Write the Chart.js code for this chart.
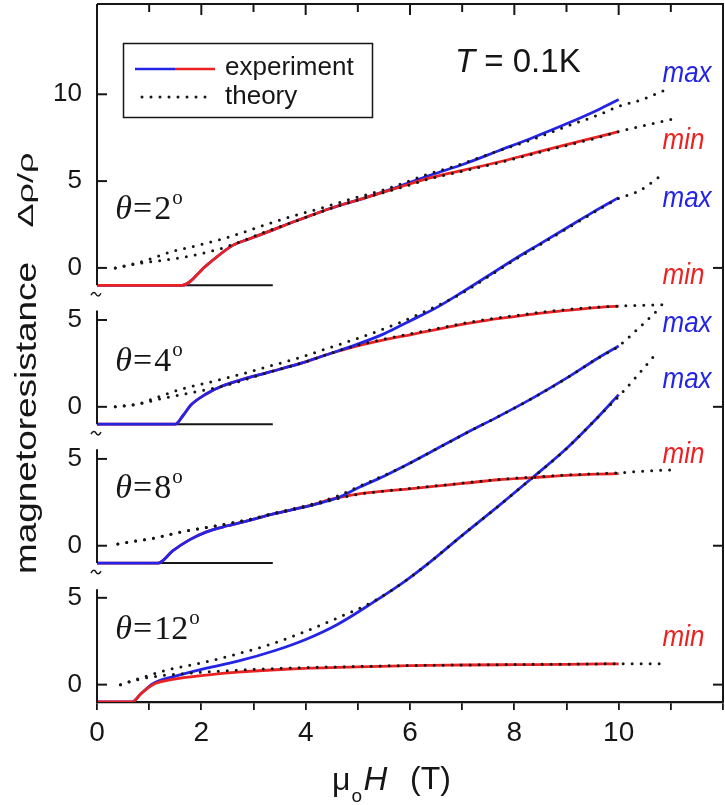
<!DOCTYPE html>
<html><head><meta charset="utf-8">
<script src="https://cdn.jsdelivr.net/npm/chart.js@4.4.1/dist/chart.umd.min.js"></script>
<style>html,body{margin:0;padding:0;background:#fff;}canvas{display:block;}</style>
</head><body>
<canvas id="c" width="725" height="805"></canvas>
<script>
// ---------------- DATA (field in T, Δρ/ρ per panel) ----------------
const angles = [2, 4, 8, 12];
const xTickLabels = ['0', '2', '4', '6', '8', '10'];
const yTickValues = [0, 5];
const yTickValuesTop = [0, 5, 10];

// θ = 2°
const fExpMax2 = [0, 1.63, 2.1, 2.6, 2.9, 3.25, 3.9, 4.5, 5.15, 5.8, 6.4, 7.05, 7.7, 8.35, 9.0, 9.6, 10.0];
const vExpMax2 = [-1, -1, 0.15, 1.3, 1.65, 2.05, 2.8, 3.45, 4.05, 4.7, 5.35, 6.0, 6.75, 7.5, 8.3, 9.1, 9.7];
const fExpMin2 = [0, 1.63, 2.1, 2.6, 2.9, 3.25, 3.9, 4.5, 5.15, 5.8, 6.4, 7.05, 7.7, 8.35, 9.0, 9.6, 10.0];
const vExpMin2 = [-1, -1, 0.15, 1.3, 1.65, 2.05, 2.8, 3.45, 4.05, 4.65, 5.2, 5.65, 6.1, 6.6, 7.1, 7.55, 7.85];
const fThMax2 = [0.35, 0.7, 1.0, 1.45, 2.0, 2.5, 2.9, 3.6, 4.3, 4.85, 5.55, 6.3, 7.0, 7.7, 8.35, 9.0, 9.6, 10.0, 10.45, 10.86];
const vThMax2 = [0, 0.23, 0.5, 0.95, 1.35, 1.75, 2.15, 2.85, 3.45, 3.95, 4.55, 5.35, 6.0, 6.75, 7.4, 8.15, 8.8, 9.3, 9.7, 10.2];
const fThMin2 = [0.35, 0.7, 1.0, 1.3, 1.8, 2.3, 2.6, 3.25, 3.9, 4.5, 5.15, 5.8, 6.4, 7.05, 7.7, 8.35, 9.0, 9.6, 10.0, 10.5, 11.0];
const vThMin2 = [0, 0.2, 0.35, 0.45, 0.7, 1.05, 1.35, 2.1, 2.8, 3.45, 4.05, 4.6, 5.15, 5.6, 6.05, 6.55, 7.05, 7.5, 7.85, 8.2, 8.55];

// θ = 4°
const fExpMax4 = [0, 1.5, 1.65, 1.8, 2.1, 2.4, 2.7, 3.3, 3.9, 4.5, 4.85, 5.5, 6.0, 6.5, 7.0, 7.5, 8.0, 8.5, 9.0, 9.5, 10.0];
const vExpMax4 = [-1, -1, -0.5, 0.1, 0.75, 1.2, 1.5, 2.0, 2.5, 3.1, 3.45, 4.2, 4.95, 5.7, 6.6, 7.55, 8.5, 9.4, 10.3, 11.2, 12.05];
const fExpMin4 = [0, 1.5, 1.65, 1.8, 2.1, 2.4, 2.7, 3.3, 3.9, 4.5, 4.85, 5.5, 6.0, 6.5, 7.0, 7.5, 8.0, 8.5, 9.0, 9.5, 10.0];
const vExpMin4 = [-1, -1, -0.5, 0.1, 0.75, 1.2, 1.5, 2.0, 2.5, 3.1, 3.4, 3.85, 4.15, 4.45, 4.75, 5.0, 5.2, 5.4, 5.55, 5.7, 5.8];
const fThMax4 = [0.35, 0.8, 1.07, 1.65, 2.0, 2.6, 3.25, 3.9, 4.5, 5.1, 5.8, 6.4, 7.0, 7.5, 8.0, 8.5, 9.0, 9.5, 10.0, 10.4, 10.85];
const vThMax4 = [0, 0.17, 0.46, 1.05, 1.3, 1.75, 2.3, 2.85, 3.45, 4.05, 4.85, 5.65, 6.55, 7.5, 8.45, 9.35, 10.25, 11.15, 12.0, 12.45, 13.4];
const fThMin4 = [0.35, 0.8, 1.2, 1.7, 2.2, 2.6, 3.3, 3.9, 4.5, 5.0, 5.5, 6.0, 6.5, 7.0, 7.5, 8.0, 8.5, 9.0, 9.5, 10.0, 10.5, 10.96];
const vThMin4 = [0, 0.17, 0.45, 0.75, 1.05, 1.35, 2.0, 2.5, 3.1, 3.55, 3.9, 4.2, 4.5, 4.8, 5.05, 5.25, 5.45, 5.6, 5.72, 5.8, 5.85, 5.9];

// θ = 8°
const fExpMax8 = [0, 1.17, 1.45, 1.78, 2.1, 2.5, 2.9, 3.4, 4.0, 4.6, 5.05, 5.5, 5.9, 6.4, 7.05, 7.7, 8.35, 9.0, 9.6, 10.0];
const vExpMax8 = [-1, -1, -0.3, 0.35, 0.8, 1.15, 1.45, 1.85, 2.25, 2.75, 3.4, 4.0, 4.6, 5.4, 6.45, 7.45, 8.5, 9.65, 10.8, 11.5];
const fExpMin8 = [0, 1.17, 1.45, 1.78, 2.1, 2.5, 2.9, 3.4, 4.0, 4.6, 5.05, 5.5, 5.9, 6.4, 7.05, 7.7, 8.35, 9.0, 9.6, 10.0];
const vExpMin8 = [-1, -1, -0.3, 0.35, 0.8, 1.15, 1.45, 1.85, 2.25, 2.75, 3.0, 3.15, 3.25, 3.4, 3.6, 3.8, 3.92, 4.05, 4.12, 4.15];
const fThMax8 = [0.4, 0.8, 1.15, 1.45, 1.8, 2.2, 2.9, 3.4, 4.0, 4.6, 5.05, 5.5, 5.9, 6.4, 7.05, 7.7, 8.35, 9.0, 9.6, 10.0, 10.3, 10.55, 10.83];
const vThMax8 = [0.1, 0.3, 0.47, 0.69, 0.9, 1.1, 1.5, 1.88, 2.3, 2.85, 3.45, 4.05, 4.6, 5.4, 6.45, 7.45, 8.5, 9.65, 10.8, 11.5, 12.3, 13.0, 13.8];
const fThMin8 = [0.4, 0.8, 1.15, 1.45, 1.8, 2.2, 2.9, 3.4, 4.0, 4.6, 5.05, 5.5, 5.9, 6.4, 7.05, 7.7, 8.35, 9.0, 9.6, 10.0, 10.5, 11.05];
const vThMin8 = [0.1, 0.3, 0.47, 0.69, 0.9, 1.1, 1.5, 1.85, 2.25, 2.7, 2.98, 3.15, 3.27, 3.42, 3.62, 3.82, 3.95, 4.07, 4.15, 4.2, 4.3, 4.37];

// θ = 12°
const fExpMax12 = [0, 0.67, 0.85, 1.07, 1.45, 2.1, 2.7, 3.4, 4.0, 4.6, 5.3, 5.9, 6.4, 7.0, 7.7, 8.3, 9.0, 9.6, 10.0];
const vExpMax12 = [-1, -1, -0.5, 0.05, 0.45, 0.95, 1.35, 1.95, 2.6, 3.45, 4.75, 5.95, 7.1, 8.6, 10.3, 11.8, 13.6, 15.4, 16.7];
const fExpMin12 = [0, 0.67, 0.85, 1.07, 1.45, 2.1, 2.7, 3.7, 5.0, 6.0, 7.0, 8.0, 9.0, 10.0];
const vExpMin12 = [-1, -1, -0.5, 0.0, 0.3, 0.55, 0.72, 0.9, 1.02, 1.1, 1.13, 1.15, 1.17, 1.2];
const fThMax12 = [0.45, 0.8, 1.35, 2.0, 2.6, 3.25, 3.9, 4.5, 5.3, 5.9, 6.4, 7.0, 7.7, 8.3, 9.0, 9.6, 10.0, 10.3, 10.5, 10.7];
const vThMax12 = [0, 0.35, 0.85, 1.25, 1.7, 2.25, 2.95, 3.7, 4.8, 5.95, 7.1, 8.6, 10.3, 11.8, 13.6, 15.4, 16.6, 17.6, 18.3, 19.0];
const fThMin12 = [0.45, 0.8, 1.2, 1.6, 2.2, 3.0, 4.0, 5.0, 6.0, 7.0, 8.0, 9.0, 10.0, 10.85];
const vThMin12 = [0, 0.3, 0.5, 0.62, 0.75, 0.88, 0.98, 1.05, 1.1, 1.13, 1.16, 1.18, 1.2, 1.2];

// ---------------- LAYOUT / STYLE ----------------
const OFFSET = {2: 24, 4: 16, 8: 8, 12: 0};       // vertical shift of each panel
const BLUE = '#2424e6', RED = '#ec2222', INK = '#161616';
const SANS = '"Liberation Sans", Arial, Helvetica, sans-serif';
const SERIF = '"Liberation Serif", "Times New Roman", serif';

const panels = [
  {deg: 2,  expMax: [fExpMax2, vExpMax2],   expMin: [fExpMin2, vExpMin2],   thMax: [fThMax2, vThMax2],   thMin: [fThMin2, vThMin2],   redTop: true},
  {deg: 4,  expMax: [fExpMax4, vExpMax4],   expMin: [fExpMin4, vExpMin4],   thMax: [fThMax4, vThMax4],   thMin: [fThMin4, vThMin4],   redTop: false},
  {deg: 8,  expMax: [fExpMax8, vExpMax8],   expMin: [fExpMin8, vExpMin8],   thMax: [fThMax8, vThMax8],   thMin: [fThMin8, vThMin8],   redTop: false},
  {deg: 12, expMax: [fExpMax12, vExpMax12], expMin: [fExpMin12, vExpMin12], thMax: [fThMax12, vThMax12], thMin: [fThMin12, vThMin12], redTop: true}
];

function pts(xs, ys, off) { return xs.map((v, i) => ({x: v, y: ys[i] + off})); }

const datasets = [];
panels.forEach(p => {
  const off = OFFSET[p.deg];
  const base = {type: 'line', fill: false, pointRadius: 0, cubicInterpolationMode: 'monotone'};
  ['thMax', 'thMin'].forEach(k => datasets.push(Object.assign({}, base, {
    label: 'theory ' + k + ' ' + p.deg, data: pts(p[k][0], p[k][1], off),
    borderColor: INK, borderWidth: 3, borderDash: [0, 9], borderCapStyle: 'round', order: 0
  })));
  datasets.push(Object.assign({}, base, {
    label: 'experiment max ' + p.deg, data: pts(p.expMax[0], p.expMax[1], off),
    borderColor: BLUE, borderWidth: 2.8, order: p.redTop ? 2 : 1
  }));
  datasets.push(Object.assign({}, base, {
    label: 'experiment min ' + p.deg, data: pts(p.expMin[0], p.expMin[1], off),
    borderColor: RED, borderWidth: 2.8, order: p.redTop ? 1 : 2
  }));
});

// y tick values in the stacked coordinate and their labels
const yTicks = [];
angles.forEach(a => {
  const vals = a === 2 ? yTickValuesTop : yTickValues;
  vals.forEach(v => yTicks.push({value: v + OFFSET[a], label: String(v)}));
});

function txt(ctx, s, x, y, o) {
  ctx.save();
  ctx.translate(x, y);
  if (o.rot) ctx.rotate(o.rot);
  ctx.font = o.font;
  let sx = o.sx || 1;
  if (o.width) sx = o.width / ctx.measureText(s).width;
  ctx.scale(sx, o.sy || 1);
  ctx.fillStyle = o.color || INK;
  ctx.textAlign = o.align || 'left';
  ctx.textBaseline = o.base || 'alphabetic';
  ctx.fillText(s, 0, 0);
  const w = ctx.measureText(s).width * sx;
  ctx.restore();
  return w;
}

function tilde(ctx, x, y) {
  ctx.beginPath();
  ctx.moveTo(x - 5, y + 1);
  ctx.bezierCurveTo(x - 3, y - 3, x - 1, y - 2, x, y);
  ctx.bezierCurveTo(x + 1, y + 2, x + 3, y + 3, x + 5, y - 1);
  ctx.stroke();
}

const decor = {
  id: 'decor',
  beforeDatasetsDraw(chart) {
    const {ctx, scales: {x, y}} = chart;
    ctx.save();
    ctx.strokeStyle = INK; ctx.lineWidth = 2;
    [2, 4, 8].forEach(a => {
      const py = y.getPixelForValue(OFFSET[a] - 1);
      ctx.beginPath(); ctx.moveTo(x.getPixelForValue(0), py); ctx.lineTo(x.getPixelForValue(3.37), py); ctx.stroke();
    });
    ctx.restore();
  },
  afterDraw(chart) {
    const {ctx, chartArea: ca, scales: {x, y}} = chart;
    ctx.save();
    ctx.strokeStyle = INK; ctx.lineCap = 'butt';
    // top & right frame
    ctx.lineWidth = 2;
    ctx.beginPath(); ctx.moveTo(ca.left, ca.top); ctx.lineTo(ca.right, ca.top); ctx.lineTo(ca.right, ca.bottom); ctx.stroke();
    // broken left axis
    const segs = [[OFFSET[2] - 1, y.max], [OFFSET[4] - 1, OFFSET[4] + 5.55], [OFFSET[8] - 1, OFFSET[8] + 5.55], [y.min, OFFSET[12] + 5.5]];
    segs.forEach(s => {
      ctx.beginPath(); ctx.moveTo(ca.left, y.getPixelForValue(s[0])); ctx.lineTo(ca.left, y.getPixelForValue(s[1])); ctx.stroke();
    });
    // break marks
    ctx.lineWidth = 1.5;
    [2, 4, 8].forEach(a => tilde(ctx, ca.left - 1, y.getPixelForValue(OFFSET[a] - 1) + 9));
    // inward ticks
    ctx.lineWidth = 2;
    yTicks.forEach(t => {
      const py = y.getPixelForValue(t.value);
      ctx.beginPath(); ctx.moveTo(ca.left, py); ctx.lineTo(ca.left + 10, py); ctx.stroke();
    });
    angles.forEach(a => {
      const py = y.getPixelForValue(OFFSET[a]);
      ctx.beginPath(); ctx.moveTo(ca.right, py); ctx.lineTo(ca.right - 10, py); ctx.stroke();
    });
    for (let v = 1; v <= 11; v++) {
      const px = x.getPixelForValue(v);
      ctx.beginPath(); ctx.moveTo(px, ca.top); ctx.lineTo(px, ca.top + (v % 2 === 0 ? 11 : 8)); ctx.stroke();
    }

    // legend
    const lx = ca.left + 26, ly = ca.top + 39;
    ctx.lineWidth = 1.5;
    ctx.strokeRect(lx + 0.5, ly + 0.5, 249, 74);
    ctx.lineWidth = 2.6;
    ctx.strokeStyle = BLUE; ctx.beginPath(); ctx.moveTo(lx + 12, ly + 26); ctx.lineTo(lx + 52, ly + 26); ctx.stroke();
    ctx.strokeStyle = RED; ctx.beginPath(); ctx.moveTo(lx + 52, ly + 26); ctx.lineTo(lx + 92, ly + 26); ctx.stroke();
    ctx.strokeStyle = INK; ctx.lineWidth = 3; ctx.lineCap = 'round'; ctx.setLineDash([0, 9]);
    ctx.beginPath(); ctx.moveTo(lx + 19, ly + 54); ctx.lineTo(lx + 86, ly + 54); ctx.stroke();
    ctx.setLineDash([]); ctx.lineCap = 'butt';
    txt(ctx, 'experiment', lx + 102, ly + 25, {font: '26px ' + SANS, base: 'middle'});
    txt(ctx, 'theory', lx + 102, ly + 54, {font: '26px ' + SANS, base: 'middle'});

    // T = 0.1K
    let tx = ca.left + 358;
    tx += txt(ctx, 'T', tx, ca.top + 68, {font: 'italic 33px ' + SANS});
    txt(ctx, ' = 0.1K', tx, ca.top + 68, {font: '33px ' + SANS});

    // max / min labels
    const lab = [['max', BLUE, 35.2], ['min', RED, 31.33], ['max', BLUE, 27.99], ['min', RED, 23.54],
                 ['max', BLUE, 20.77], ['max', BLUE, 17.54], ['min', RED, 13.27], ['min', RED, 2.71]];
    lab.forEach(l => txt(ctx, l[0], x.getPixelForValue(10.84), y.getPixelForValue(l[2]), {font: 'italic 26px ' + SANS, color: l[1], base: 'middle', sy: 1.15}));

    // θ labels
    const thetaBase = {2: 2.83, 4: 2.08, 8: 2.77, 12: 2.65};
    angles.forEach(a => {
      let px = x.getPixelForValue(0.35);
      const py = y.getPixelForValue(OFFSET[a] + thetaBase[a]);
      px += txt(ctx, 'θ', px, py, {font: 'italic 34px ' + SERIF});
      px += txt(ctx, '=', px + 1, py, {font: '34px ' + SERIF}) + 3;
      px += txt(ctx, String(a), px, py, {font: '34px ' + SERIF});
      txt(ctx, 'o', px + 1, py - 15, {font: '21px ' + SERIF});
    });

    // axis titles
    let ax = 332;
    ax += txt(ctx, 'μ', ax, 790, {font: '32px ' + SANS});
    txt(ctx, 'o', ax + 1, 802, {font: '19px ' + SANS});
    ax += 13;
    txt(ctx, 'H', ax, 790, {font: 'italic 33px ' + SANS});
    txt(ctx, '(T)', 410, 789, {font: '32px ' + SANS});

    txt(ctx, 'magnetoresistance', 36, 418, {font: '30px ' + SANS, rot: -Math.PI / 2, align: 'center', width: 312});
    txt(ctx, 'Δρ/ρ', 33, 190, {font: '22px ' + SANS, rot: -Math.PI / 2, align: 'center', width: 75});
    ctx.restore();
  }
};

new Chart(document.getElementById('c'), {
  type: 'line',
  data: {datasets},
  plugins: [decor],
  options: {
    responsive: false, animation: false, devicePixelRatio: 1,
    layout: {padding: {left: 0, right: 2, top: 4, bottom: 0}},
    plugins: {legend: {display: false}, tooltip: {enabled: false}},
    scales: {
      x: {
        type: 'linear', min: 0, max: 12,
        afterFit: s => { s.height = 103; s.paddingLeft = 0; s.paddingRight = 0; },
        border: {display: true, color: INK, width: 2.2},
        grid: {display: true, drawOnChartArea: false, drawTicks: true, tickLength: 8, color: INK, lineWidth: 1.8},
        ticks: {stepSize: 1, autoSkip: false, maxRotation: 0, padding: 6, color: INK,
          font: {family: SANS, size: 28},
          callback: v => (v % 2 === 0 && v <= 10) ? xTickLabels[v / 2] : ''}
      },
      y: {
        type: 'linear', min: -1.0, max: 39.2,
        afterFit: s => { s.width = 97; s.paddingTop = 0; s.paddingBottom = 0; },
        afterBuildTicks: s => { s.ticks = yTicks.map(t => ({value: t.value})); },
        border: {display: false},
        grid: {display: false, drawTicks: false},
        ticks: {padding: 15, color: INK, autoSkip: false, font: {family: SANS, size: 26},
          callback: v => { const t = yTicks.find(q => Math.abs(q.value - v) < 1e-6); return t ? t.label : ''; }}
      }
    }
  }
});
</script>
</body></html>
